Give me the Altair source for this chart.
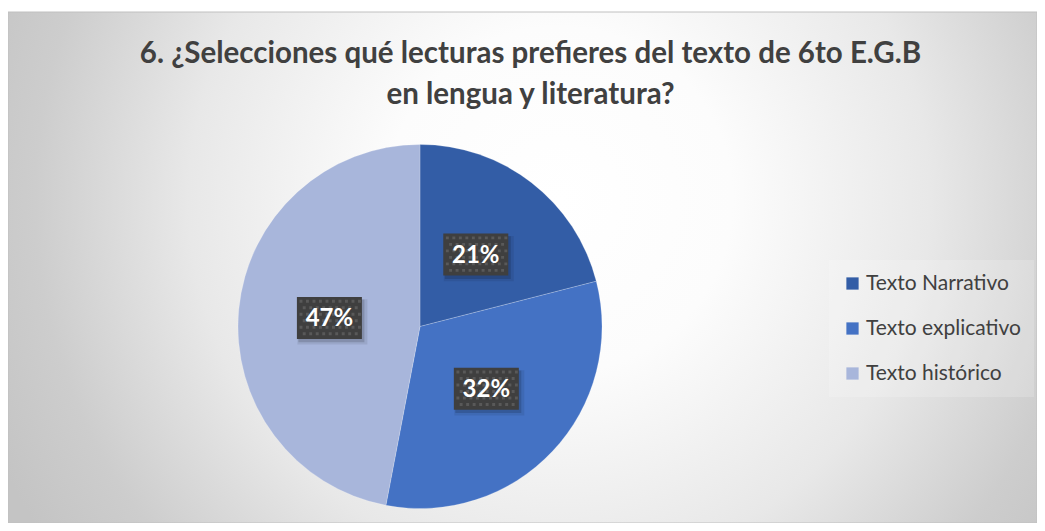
import altair as alt
import pandas as pd

# ---- data ----
CATEGORIES = ["Texto Narrativo", "Texto explicativo", "Texto histórico"]
VALUES = [21, 32, 47]
LABELS = ["21%", "32%", "47%"]
COLORS = ["#335DA6", "#4472C4", "#A8B6DB"]
TITLE = "6. ¿Selecciones qué lecturas prefieres del texto de 6to E.G.B\nen lengua y literatura?"

df = pd.DataFrame({
    "category": CATEGORIES,
    "value": VALUES,
    "label": LABELS,
    "idx": list(range(len(CATEGORIES))),
})

W, H = 1029, 515
CX, CY, R = 412, 318.5, 182
FONT = "Lato"

# label box shape (unit box -1..1 wide, aspect 65x42)
BOX = "M-1,-0.646H1V0.646H-1Z"
# dotted texture inside label box
tex = []
step = 0.2
yy = -0.56
row = 0
while yy < 0.6:
    xx = -0.92 + (0.1 if row % 2 else 0.0)
    while xx < 0.92:
        tex.append(f"M{xx:.3f},{yy:.3f}h0.09v0.09h-0.09Z")
        xx += step
    yy += step
    row += 1
TEXTURE = "".join(tex)

bg = alt.Chart(alt.Data(values=[{}])).mark_rect(
    color=alt.RadialGradient(
        gradient="radial",
        x1=0.536, y1=0.434, r1=0,
        x2=0.536, y2=0.434, r2=0.6,
        stops=[
            alt.GradientStop(offset=0, color="#ffffff"),
            alt.GradientStop(offset=0.28, color="#fcfcfc"),
            alt.GradientStop(offset=0.6, color="#e8e8e8"),
            alt.GradientStop(offset=0.85, color="#cdcdcd"),
            alt.GradientStop(offset=1, color="#c4c4c4"),
        ],
    ),
    stroke="#c0c0c0",
    strokeWidth=1,
).encode(
    x=alt.value(0), x2=alt.value(W), y=alt.value(4), y2=alt.value(H)
)

base = alt.Chart(df)

pie = base.mark_arc(outerRadius=R, stroke="#ffffff", strokeWidth=0.4, strokeOpacity=0.5).encode(
    theta=alt.Theta("value:Q", stack=True),
    color=alt.Color(
        "category:N",
        scale=alt.Scale(domain=CATEGORIES, range=COLORS),
        sort=CATEGORIES,
        legend=alt.Legend(
            title=None,
            orient="none",
            legendX=821,
            legendY=252,
            symbolType="square",
            symbolSize=150,
            symbolStrokeWidth=0,
            labelFont=FONT,
            labelFontSize=21,
            labelColor="#404040",
            labelOffset=3,
            rowPadding=23,
            padding=13,
            fillColor="rgba(255,255,255,0.18)",
        ),
    ),
    order=alt.Order("idx:Q"),
    x=alt.value(CX),
    y=alt.value(CY),
)

pos = base.transform_joinaggregate(
    total="sum(value)"
).transform_window(
    cum="sum(value)", sort=[alt.SortField("idx")], frame=[None, 0]
).transform_calculate(
    mid="(datum.cum - datum.value / 2) / datum.total * 2 * PI",
).transform_calculate(
    px="0.5 * sin(datum.mid)",
    py="0.5 * cos(datum.mid)",
)

xenc = alt.X("px:Q", scale=alt.Scale(domain=[-1, 1], range=[CX - R, CX + R]), axis=None)
yenc = alt.Y("py:Q", scale=alt.Scale(domain=[-1, 1], range=[CY + R, CY - R]), axis=None)

shadow1 = pos.mark_point(shape=BOX, size=70 ** 2, filled=True, color="#000000",
                         opacity=0.08, strokeWidth=0, xOffset=3, yOffset=4).encode(x=xenc, y=yenc)
shadow2 = pos.mark_point(shape=BOX, size=66 ** 2, filled=True, color="#000000",
                         opacity=0.15, strokeWidth=0, xOffset=2, yOffset=3).encode(x=xenc, y=yenc)
box = pos.mark_point(shape=BOX, size=65 ** 2, filled=True, color="#3f3f3f",
                     opacity=1, strokeWidth=0).encode(x=xenc, y=yenc)
texture = pos.mark_point(shape=TEXTURE, size=65 ** 2, filled=True, color="#595959",
                         opacity=1, strokeWidth=0).encode(x=xenc, y=yenc)
txt = pos.mark_text(font=FONT, fontWeight="bold", fontSize=24, color="#ffffff",
                    align="center", baseline="middle", dy=1).encode(
    x=xenc, y=yenc, text="label:N"
)

title = alt.Chart(alt.Data(values=[{"t": TITLE}])).mark_text(
    font=FONT, fontWeight="bold", fontSize=29.5, color="#404040",
    align="center", baseline="alphabetic", lineBreak="\n", lineHeight=41,
).encode(x=alt.value(522.5), y=alt.value(55), text="t:N")

chart = alt.layer(bg, title, pie, shadow1, shadow2, box, texture, txt).properties(
    width=W, height=H, padding=0, autosize=alt.AutoSizeParams(type="none"),
    background="#ffffff",
).configure_view(stroke=None)

chart.save("out.html", embed_options={"renderer": "svg", "actions": False})
